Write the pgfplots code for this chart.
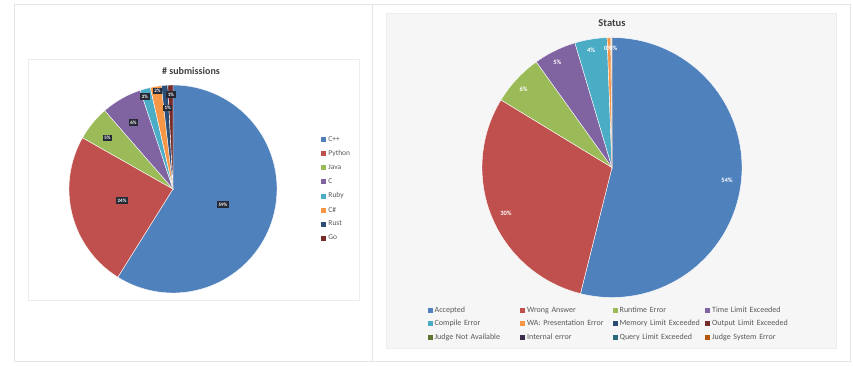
\documentclass[border=0pt]{standalone}
\usepackage{pgfplots}
\pgfplotsset{compat=1.18}
\usepackage{pgfplotstable}
\usepackage{fontspec}
\setmainfont{Carlito}

\definecolor{cA}{HTML}{4F81BD}
\definecolor{cB}{HTML}{C0504D}
\definecolor{cC}{HTML}{9BBB59}
\definecolor{cD}{HTML}{8064A2}
\definecolor{cE}{HTML}{4BACC6}
\definecolor{cF}{HTML}{F79646}
\definecolor{cG}{HTML}{2C4D75}
\definecolor{cH}{HTML}{772C2A}
\definecolor{cI}{HTML}{5F7530}
\definecolor{cJ}{HTML}{3B2E4C}
\definecolor{cK}{HTML}{276A7C}
\definecolor{cL}{HTML}{B65708}
\definecolor{txtgray}{HTML}{595959}
\definecolor{titlegray}{HTML}{404040}
\definecolor{labbox}{HTML}{262A36}
\definecolor{framegray}{HTML}{E4E4E4}
\definecolor{panelgray}{HTML}{F6F6F6}

% # submissions per language (percent)
\pgfplotstableread{
value color
58.9 cA
24.3 cB
5.4  cC
6.3  cD
1.6  cE
1.7  cF
1.0  cG
0.8  cH
}\langdata

% submission status (percent)
\pgfplotstableread{
value color
53.9 cA
29.8 cB
6.4  cC
5.3  cD
4.0  cE
0.45 cF
0.05 cG
0.05 cH
0    cI
0    cJ
0    cK
0.05 cL
}\statusdata

\newcommand{\drawpie}[1]{%
  \pgfplotstablegetrowsof{#1}%
  \pgfmathtruncatemacro{\lastrow}{\pgfplotsretval-1}%
  \def\cum{0}%
  \pgfplotsforeachungrouped \i in {0,...,\lastrow}{%
    \pgfplotstablegetelem{\i}{value}\of{#1}\let\pv\pgfplotsretval
    \pgfplotstablegetelem{\i}{color}\of{#1}\let\pc\pgfplotsretval
    \ifdim\pv pt>0pt
      \pgfmathsetmacro{\aS}{90-3.6*\cum}%
      \pgfmathsetmacro{\aE}{90-3.6*(\cum+\pv)}%
      \edef\cmd{\noexpand\addplot[fill=\pc, draw=white, line width=0.4pt,
        domain=\aE:\aS, samples=90, variable=\noexpand\t, forget plot]
        ({cos(\noexpand\t)},{sin(\noexpand\t)}) -- (axis cs:0,0) -- cycle;}%
      \cmd
    \fi
    \pgfmathsetmacro{\cum}{\cum+\pv}%
  }%
}

\pgfplotsset{
  pielegend/.style={legend image code/.code={\fill[##1,draw=none] (0pt,-2.5pt) rectangle (5pt,2.5pt);}},
}

\begin{document}
\begin{tikzpicture}[x=1pt,y=1pt]
% frames
\fill[white] (0,0) rectangle (853,365);
\draw[framegray, line width=1pt] (14,4) rectangle (850,360);
\draw[framegray, line width=1pt] (372,4) -- (372,360);
\draw[framegray!70, line width=0.6pt] (28,65) rectangle (359,306);
\draw[framegray!70, line width=0.6pt, fill=panelgray] (386,17) rectangle (836,352);

% titles
\node[font=\fontsize{10}{12}\selectfont\bfseries, text=titlegray] at (191,294) {\# submissions};
\node[font=\fontsize{10.5}{12}\selectfont\bfseries, text=titlegray] at (612,342) {Status};

% left pie
\begin{axis}[at={(173pt,176pt)}, anchor=center, x=104pt, y=104pt,
  xmin=-1.05, xmax=1.05, ymin=-1.05, ymax=1.05, hide axis, clip=false,
  pielegend,
  legend cell align=left,
  legend style={at={(1.165,0.5)}, anchor=west, draw=none, fill=none,
    font=\fontsize{7.5}{9}\selectfont, text=txtgray, row sep=3.6pt}]
\drawpie{\langdata}
\addlegendimage{fill=cA}\addlegendentry{C++}
\addlegendimage{fill=cB}\addlegendentry{Python}
\addlegendimage{fill=cC}\addlegendentry{Java}
\addlegendimage{fill=cD}\addlegendentry{C}
\addlegendimage{fill=cE}\addlegendentry{Ruby}
\addlegendimage{fill=cF}\addlegendentry{C\#}
\addlegendimage{fill=cG}\addlegendentry{Rust}
\addlegendimage{fill=cH}\addlegendentry{Go}
\addplot[mark=none, draw=none, forget plot, nodes near coords, point meta=explicit symbolic,
  nodes near coords style={anchor=center, font=\fontsize{5}{6}\selectfont\bfseries,
  text=white, fill=labbox, inner sep=1.5pt}]
  table[meta=lab] {
x y lab
0.48 -0.15 59\%
-0.49 -0.11 24\%
-0.63 0.49 5\%
-0.38 0.64 6\%
-0.27 0.89 2\%
-0.15 0.94 2\%
-0.05 0.78 1\%
-0.02 0.91 1\%
};
\end{axis}

% right pie
\begin{axis}[at={(612pt,197.5pt)}, anchor=center, x=130pt, y=130pt,
  xmin=-1.05, xmax=1.05, ymin=-1.05, ymax=1.05, hide axis, clip=false,
  pielegend,
  legend cell align=left, legend columns=4,
  legend style={at={(-0.187,0.005)}, anchor=north west, draw=none, fill=none,
    font=\fontsize{8}{9.6}\selectfont, text=txtgray, row sep=2.5pt,
    nodes={text width=83.5pt, align=left}}]
\drawpie{\statusdata}
\addlegendimage{fill=cA}\addlegendentry{Accepted}
\addlegendimage{fill=cB}\addlegendentry{Wrong Answer}
\addlegendimage{fill=cC}\addlegendentry{Runtime Error}
\addlegendimage{fill=cD}\addlegendentry{Time Limit Exceeded}
\addlegendimage{fill=cE}\addlegendentry{Compile Error}
\addlegendimage{fill=cF}\addlegendentry{WA: Presentation Error}
\addlegendimage{fill=cG}\addlegendentry{Memory Limit Exceeded}
\addlegendimage{fill=cH}\addlegendentry{Output Limit Exceeded}
\addlegendimage{fill=cI}\addlegendentry{Judge Not Available}
\addlegendimage{fill=cJ}\addlegendentry{Internal error}
\addlegendimage{fill=cK}\addlegendentry{Query Limit Exceeded}
\addlegendimage{fill=cL}\addlegendentry{Judge System Error}
\addplot[mark=none, draw=none, forget plot, nodes near coords, point meta=explicit symbolic,
  nodes near coords style={anchor=center, font=\fontsize{6.5}{7}\selectfont\bfseries,
  text=white, inner sep=0.5pt}]
  table[meta=lab] {
x y lab
0.885 -0.10 54\%
-0.815 -0.35 30\%
-0.68 0.60 6\%
-0.42 0.81 5\%
-0.16 0.90 4\%
-0.03 0.92 0\%
0.01 0.92 0\%
};
\end{axis}
\end{tikzpicture}
\end{document}
